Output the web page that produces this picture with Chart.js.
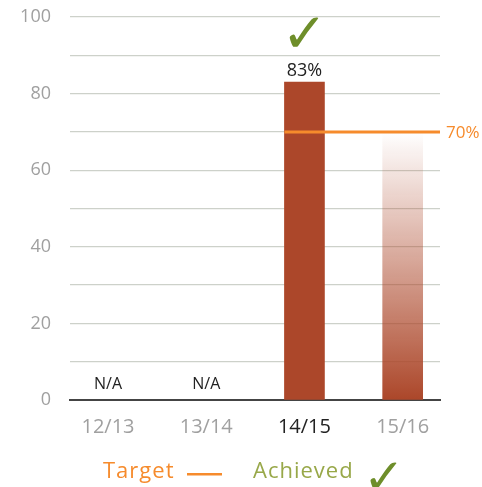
<!DOCTYPE html>
<html><head><meta charset="utf-8">
<script src="https://cdn.jsdelivr.net/npm/chart.js@4/dist/chart.umd.min.js"></script>
<style>html,body{margin:0;padding:0;background:#fff;}#wrap{width:482px;height:487px;position:relative;}</style>
</head><body><div id="wrap"><canvas id="c" width="482" height="487"></canvas></div>
<script>
const categories = ['12/13', '13/14', '14/15', '15/16'];
const achieved = [null, null, 83, 70];
const barLabels = ['N/A', 'N/A', '83%', ''];
const achievedMarks = [false, false, true, false];
const fadedBars = [false, false, false, true];
const target = 70;
const targetLabel = '70%';
const targetFrom = 2;
const yTicks = [0, 20, 40, 60, 80, 100];
const highlight = 2;

const BAR = '#ac472a';
const ORANGE = '#f68b2c';
const GREEN = '#6e8e2a';
const OLIVE = '#98a849';
const FONT = "'Open Sans', 'Noto Sans', sans-serif";
const CHECK_FONT = "'DejaVu Sans', sans-serif";

function barColor(ctx) {
  const i = ctx.dataIndex;
  if (!fadedBars[i]) return BAR;
  const chart = ctx.chart;
  const area = chart.chartArea;
  if (!area) return BAR;
  const y = chart.scales.y;
  const top = y.getPixelForValue(achieved[i]);
  const bottom = y.getPixelForValue(0);
  const g = chart.ctx.createLinearGradient(0, top, 0, bottom);
  g.addColorStop(0, 'rgba(172,71,42,0)');
  g.addColorStop(1, 'rgba(172,71,42,1)');
  return g;
}

const overlay = {
  id: 'overlay',
  afterDatasetsDraw(chart) {
    const c = chart.ctx, xs = chart.scales.x, ys = chart.scales.y, area = chart.chartArea;
    const meta = chart.getDatasetMeta(0);
    const ty = ys.getPixelForValue(target);
    const bar = meta.data[targetFrom];
    const x0 = bar.x - bar.width / 2;
    c.save();
    c.strokeStyle = ORANGE; c.lineWidth = 3;
    c.beginPath(); c.moveTo(x0, ty); c.lineTo(area.right, ty); c.stroke();
    c.fillStyle = ORANGE; c.font = '17px ' + FONT; c.textAlign = 'left'; c.textBaseline = 'middle';
    c.fillText(targetLabel, area.right + 6, ty + 1);
    c.textAlign = 'center'; c.textBaseline = 'alphabetic';
    categories.forEach((cat, i) => {
      const x = xs.getPixelForValue(i);
      if (barLabels[i]) {
        c.fillStyle = '#222';
        if (achieved[i] == null) {
          c.font = '16px ' + FONT;
          c.fillText(barLabels[i], x, ys.getPixelForValue(0) - 11);
        } else {
          c.font = '18px ' + FONT;
          c.fillText(barLabels[i], x, ys.getPixelForValue(achieved[i]) - 6);
        }
      }
      if (achievedMarks[i]) {
        c.fillStyle = GREEN; c.font = 'bold 55px ' + CHECK_FONT;
        c.fillText('✓', x, ys.getPixelForValue(achieved[i]) - 30);
      }
    });
    c.textBaseline = 'alphabetic'; c.textAlign = 'left';
    c.font = '22px ' + FONT;
    c.letterSpacing = '1px';
    c.fillStyle = ORANGE;
    c.fillText('Target', 103, 478);
    c.fillRect(187, 473, 35, 2.5);
    c.fillStyle = OLIVE;
    c.fillText('Achieved', 253, 478);
    c.letterSpacing = '0px';
    c.textAlign = 'center';
    c.fillStyle = GREEN; c.font = 'bold 50px ' + CHECK_FONT;
    c.fillText('✓', 384, 494);
    c.restore();
  }
};

new Chart(document.getElementById('c'), {
  type: 'bar',
  data: {
    datasets: [{
      data: achieved.map((v, i) => ({ x: i, y: v })),
      backgroundColor: barColor,
      barThickness: 40,
      borderWidth: 0
    }]
  },
  options: {
    responsive: false,
    animation: false,
    devicePixelRatio: 1,
    layout: { padding: { left: 0, right: 42, top: 17, bottom: 0 } },
    plugins: { legend: { display: false }, tooltip: { enabled: false } },
    scales: {
      x: {
        type: 'linear',
        bounds: 'data',
        offset: false,
        min: -0.387, max: 3.38,
        afterBuildTicks: (axis) => { axis.ticks = categories.map((c, i) => ({ value: i })); },
        afterFit: (s) => { s.height = 87; s.paddingLeft = 0; s.paddingRight = 0; },
        grid: { display: false, drawTicks: false, offset: false },
        border: { display: true, color: '#444', width: 2 },
        ticks: {
          autoSkip: false, maxRotation: 0, padding: 15,
          font: { family: FONT, size: 20 },
          color: (ctx) => ctx.index === highlight ? '#222' : '#a0a0a0',
          callback: (v) => categories[v]
        }
      },
      y: {
        min: 0, max: 100,
        afterFit: (s) => { s.width = 70; s.paddingTop = 0; s.paddingBottom = 0; },
        afterBuildTicks: (axis) => {
          const t = [];
          for (let v = 0; v <= 100; v += 10) t.push({ value: v });
          axis.ticks = t;
        },
        grid: { color: '#cdd1ca', lineWidth: 1.3, drawTicks: false },
        border: { display: false },
        ticks: {
          padding: 19,
          font: { family: FONT, size: 18 },
          color: '#a0a0a0',
          callback: (v) => yTicks.includes(v) ? String(v) : ''
        }
      }
    }
  },
  plugins: [overlay]
});
</script></body></html>
